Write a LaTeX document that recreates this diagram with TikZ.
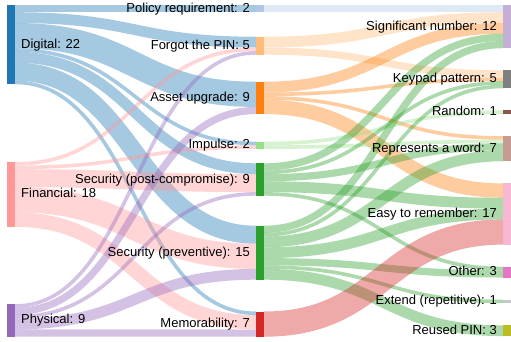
\documentclass[tikz,border=0pt]{standalone}
\usepackage{fontspec}
\setmainfont{Liberation Sans}
\usetikzlibrary{positioning}
\definecolor{cDigital}{HTML}{1F77B4}
\definecolor{cFinancial}{HTML}{FF9896}
\definecolor{cPhysical}{HTML}{9467BD}
\definecolor{cPolicy}{HTML}{AEC7E8}
\definecolor{cForgot}{HTML}{FFBB78}
\definecolor{cAsset}{HTML}{FF7F0E}
\definecolor{cImpulse}{HTML}{98DF8A}
\definecolor{cSecurity}{HTML}{2CA02C}
\definecolor{cMemo}{HTML}{D62728}
\definecolor{cSig}{HTML}{C5B0D5}
\definecolor{cKeypad}{HTML}{7F7F7F}
\definecolor{cRandom}{HTML}{8C564B}
\definecolor{cWord}{HTML}{C49C94}
\definecolor{cEasy}{HTML}{F7B6D2}
\definecolor{cOther}{HTML}{E377C2}
\definecolor{cExtend}{HTML}{C7C7C7}
\definecolor{cReused}{HTML}{BCBD22}
\pgfdeclarelayer{flows}
\pgfsetlayers{flows,main}

\begin{document}
\begin{tikzpicture}[x=1pt, y=-1pt,
  bar/.style={draw=none, inner sep=0pt, outer sep=0pt, minimum width=8pt, anchor=north west},
  lbl/.style={font=\fontsize{13}{15}\selectfont, inner sep=0pt, text height=0.9em, text depth=0.2em},
  flow/.style={draw opacity=0.4}]
 \def\k{3.6};
 \useasboundingbox (0,0) rectangle (511,341);

 %column 1
    \foreach \name/\y/\v/\col/\txt in {digital/5/22/cDigital/{Digital: 22}, financial/162/18/cFinancial/{Financial: 18}, physical/304.2/9/cPhysical/{Physical: 9}} {
         \node[bar, fill=\col, minimum height={\v*\k*1pt}] (\name) at (7,\y) {};
         \node[lbl, right=6pt of \name] (\name-lbl) {\txt};
    }

 %column 2
    \foreach \name/\y/\v/\col/\txt in {policy/5/2/cPolicy/{Policy requirement: 2}, forgot/36.7/5/cForgot/{Forgot the PIN: 5}, asset/81.7/9/cAsset/{Asset upgrade: 9}, impulse/141.7/2/cImpulse/{Impulse: 2}, secpost/163.3/9/cSecurity/{Security (post-compromise): 9}, secprev/225.7/15/cSecurity/{Security (preventive): 15}, memo/311.5/7/cMemo/{Memorability: 7}} {
         \node[bar, fill=\col, minimum height={\v*\k*1pt}] (\name) at (256,\y) {};
         \node[lbl, left=6pt of \name] (\name-lbl) {\txt};
    }

 %column 3
    \foreach \name/\y/\v/\col/\txt in {sig/5/12/cSig/{Significant number: 12}, keypad/70.3/5/cKeypad/{Keypad pattern: 5}, random/110.4/1/cRandom/{Random: 1}, word/136.1/7/cWord/{Represents a word: 7}, easy/183.4/17/cEasy/{Easy to remember: 17}, other/266.7/3/cOther/{Other: 3}, extend/299.6/1/cExtend/{Extend (repetitive): 1}, reused/325.3/3/cReused/{Reused PIN: 3}} {
         \node[bar, fill=\col, minimum height={\v*\k*1pt}] (\name) at (503,\y) {};
         \node[lbl, left=6pt of \name] (\name-lbl) {\txt};
    }

 %flows
 \begin{pgfonlayer}{flows}
    \foreach \src/\a/\tgt/\b/\v/\col in {digital/0/policy/0/2/cDigital, digital/2/forgot/0/3/cDigital, digital/5/asset/0/7/cDigital, digital/12/impulse/0/1/cDigital, digital/13/secpost/0/3/cDigital, digital/16/secprev/0/5/cDigital, digital/21/memo/0/1/cDigital,
      financial/0/forgot/3/1/cFinancial, financial/1/impulse/1/1/cFinancial, financial/2/secpost/3/5/cFinancial, financial/7/secprev/5/7/cFinancial, financial/14/memo/1/4/cFinancial,
      physical/0/forgot/4/1/cPhysical, physical/1/asset/7/2/cPhysical, physical/3/secpost/8/1/cPhysical, physical/4/secprev/12/3/cPhysical, physical/7/memo/5/2/cPhysical,
      policy/0/sig/0/2/cPolicy, forgot/0/sig/2/3/cForgot, forgot/3/keypad/0/2/cForgot,
      asset/0/sig/5/3/cAsset, asset/3/keypad/2/1/cAsset, asset/4/word/0/1/cAsset, asset/5/easy/0/4/cAsset,
      impulse/0/random/0/1/cImpulse, impulse/1/word/1/1/cImpulse,
      secpost/0/sig/8/2/cSecurity, secpost/2/keypad/3/1/cSecurity, secpost/3/word/2/2/cSecurity, secpost/5/easy/4/3/cSecurity, secpost/8/other/0/1/cSecurity,
      secprev/0/sig/10/2/cSecurity, secprev/2/keypad/4/1/cSecurity, secprev/3/word/4/3/cSecurity, secprev/6/easy/7/3/cSecurity, secprev/9/other/1/2/cSecurity, secprev/11/extend/0/1/cSecurity, secprev/12/reused/0/3/cSecurity,
      memo/0/easy/10/7/cMemo} {
         \draw[flow, draw=\col, line width={\v*\k*1pt}] ([yshift={-(\a+\v/2)*\k*1pt}]\src.north east) .. controls +(120,0) and +(-120,0) .. ([yshift={-(\b+\v/2)*\k*1pt}]\tgt.north west);
    }
 \end{pgfonlayer}
\end{tikzpicture}
\end{document}
